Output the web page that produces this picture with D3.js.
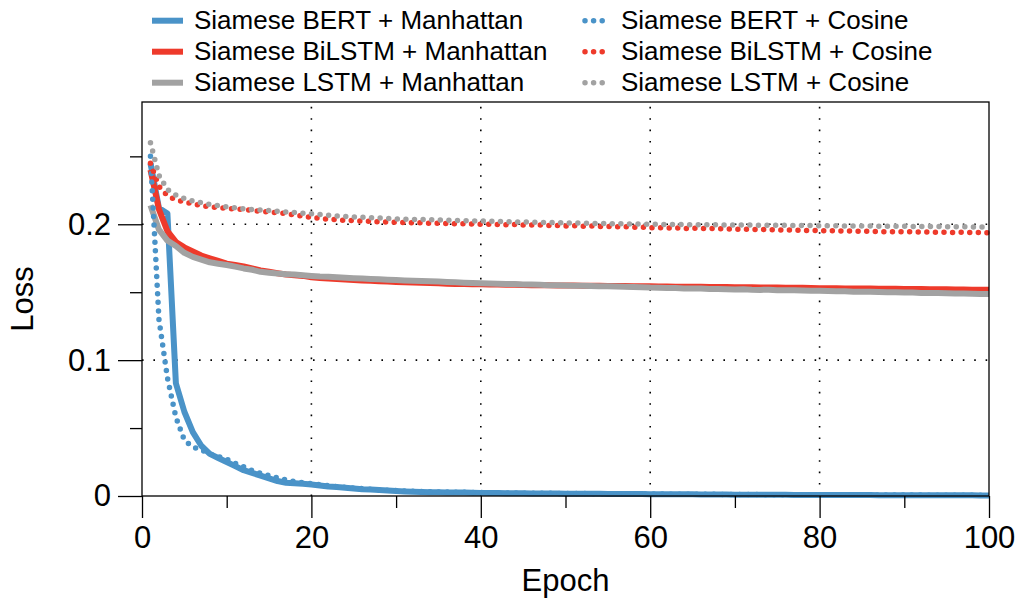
<!DOCTYPE html>
<html>
<head>
<meta charset="utf-8">
<script src="https://cdn.jsdelivr.net/npm/d3@7"></script>
<style>
  body { margin: 0; background: #fff; }
  svg text { font-family: "Liberation Sans", Arial, Helvetica, sans-serif; fill: #000; }
</style>
</head>
<body>
<svg id="viz" width="1021" height="599"></svg>
<script>
// ----- data -----
const epochs = d3.range(1, 101);

const bertMan = [
  0.245, 0.212, 0.208, 0.083, 0.062, 0.047, 0.037, 0.031, 0.028, 0.025,
  0.022, 0.019, 0.017, 0.015, 0.013, 0.011, 0.0098, 0.0094, 0.009, 0.0085,
  0.0078, 0.007, 0.0066, 0.006, 0.0055, 0.005, 0.0047, 0.0044, 0.004, 0.0037,
  0.0034, 0.0032, 0.003, 0.0028, 0.0027, 0.0026, 0.0026, 0.0025, 0.0024, 0.0023,
  0.0022, 0.0022, 0.0021, 0.002, 0.002, 0.0019, 0.0019, 0.0018, 0.0018, 0.0017,
  0.0017, 0.0016, 0.0016, 0.0016, 0.0015, 0.0015, 0.0014, 0.0015, 0.0014, 0.0013,
  0.0013, 0.0013, 0.0012, 0.0012, 0.0012, 0.0011, 0.0011, 0.0011, 0.0011, 0.001,
  0.001, 0.001, 0.0009, 0.0009, 0.0009, 0.0009, 0.0008, 0.0008, 0.0008, 0.0008,
  0.0008, 0.0007, 0.0007, 0.0007, 0.0007, 0.0007, 0.0006, 0.0006, 0.0006, 0.0006,
  0.0006, 0.0006, 0.0005, 0.0005, 0.0005, 0.0005, 0.0005, 0.0005, 0.0004, 0.0004
];
const bilstmMan = [
  0.240, 0.211, 0.195, 0.187, 0.183, 0.180, 0.177, 0.175, 0.173, 0.171,
  0.170, 0.169, 0.1675, 0.166, 0.165, 0.164, 0.163, 0.1625, 0.162, 0.161,
  0.1605, 0.160, 0.1597, 0.1593, 0.159, 0.1587, 0.1584, 0.1581, 0.1578, 0.1575,
  0.1573, 0.1571, 0.1569, 0.1567, 0.1565, 0.1563, 0.1561, 0.156, 0.1559, 0.1558,
  0.1557, 0.1556, 0.1555, 0.1554, 0.1553, 0.1552, 0.1552, 0.1551, 0.155, 0.155,
  0.1549, 0.1548, 0.1548, 0.1547, 0.1546, 0.1546, 0.1545, 0.1544, 0.1543, 0.1543,
  0.1542, 0.1542, 0.1541, 0.154, 0.1541, 0.154, 0.1539, 0.1538, 0.1538, 0.1537,
  0.1536, 0.1536, 0.1535, 0.1534, 0.1534, 0.1533, 0.1532, 0.1532, 0.1531, 0.153,
  0.153, 0.1529, 0.1528, 0.1528, 0.1527, 0.1527, 0.1526, 0.1525, 0.1525, 0.1524,
  0.1523, 0.1523, 0.1522, 0.1521, 0.1521, 0.152, 0.152, 0.1519, 0.1518, 0.1518
];
const lstmMan = [
  0.214, 0.196, 0.188, 0.184, 0.179, 0.176, 0.174, 0.172, 0.171, 0.170,
  0.1688, 0.1675, 0.1665, 0.165, 0.1643, 0.1637, 0.1633, 0.163, 0.1625, 0.162,
  0.1616, 0.1614, 0.161, 0.1606, 0.1603, 0.16, 0.1597, 0.1595, 0.1592, 0.159,
  0.1587, 0.1585, 0.1582, 0.158, 0.1578, 0.1575, 0.1573, 0.157, 0.1568, 0.1566,
  0.1565, 0.1563, 0.1561, 0.156, 0.1557, 0.1556, 0.1554, 0.1552, 0.1551, 0.155,
  0.1548, 0.1547, 0.1546, 0.1544, 0.1543, 0.1542, 0.154, 0.1538, 0.1537, 0.1534,
  0.1533, 0.1531, 0.1531, 0.1528, 0.1527, 0.1527, 0.1524, 0.1524, 0.1522, 0.152,
  0.1521, 0.1518, 0.1517, 0.1518, 0.1515, 0.1514, 0.1515, 0.1512, 0.151, 0.151,
  0.1508, 0.1507, 0.1507, 0.1504, 0.1503, 0.1503, 0.1501, 0.15, 0.1499, 0.1497,
  0.1497, 0.1495, 0.1494, 0.1494, 0.1492, 0.149, 0.149, 0.1489, 0.1487, 0.1486
];
const bertCos = [
  0.25, 0.13, 0.087, 0.058, 0.041, 0.036, 0.034, 0.031, 0.029, 0.027,
  0.024, 0.0215, 0.0188, 0.0167, 0.015, 0.0133, 0.0118, 0.0106, 0.0098, 0.009,
  0.0083, 0.0076, 0.007, 0.0064, 0.0059, 0.0054, 0.005, 0.0046, 0.0043, 0.004,
  0.0037, 0.0035, 0.0033, 0.0031, 0.003, 0.0029, 0.0028, 0.0027, 0.0026, 0.0025,
  0.0024, 0.0023, 0.0023, 0.0022, 0.0021, 0.0021, 0.002, 0.002, 0.0019, 0.0019,
  0.0018, 0.0018, 0.0017, 0.0017, 0.0016, 0.0016, 0.0016, 0.0015, 0.0015, 0.0014,
  0.0014, 0.0014, 0.0013, 0.0013, 0.0013, 0.0012, 0.0012, 0.0012, 0.0011, 0.0011,
  0.0011, 0.0011, 0.001, 0.001, 0.001, 0.001, 0.0009, 0.0009, 0.0009, 0.0009,
  0.0009, 0.0008, 0.0008, 0.0008, 0.0008, 0.0008, 0.0007, 0.0007, 0.0007, 0.0007,
  0.0007, 0.0007, 0.0006, 0.0006, 0.0006, 0.0006, 0.0006, 0.0006, 0.0005, 0.0005
];
const bilstmCos = [
  0.245, 0.228, 0.221, 0.218, 0.2165, 0.215, 0.2138, 0.2128, 0.2122, 0.2118,
  0.2113, 0.2108, 0.2102, 0.2096, 0.209, 0.2086, 0.2078, 0.2068, 0.206, 0.205,
  0.2045, 0.2037, 0.2034, 0.2028, 0.2027, 0.2022, 0.2022, 0.2018, 0.2016, 0.2015,
  0.2013, 0.201, 0.2011, 0.2007, 0.2008, 0.2005, 0.2004, 0.2003, 0.2001, 0.2,
  0.2001, 0.1998, 0.1997, 0.1998, 0.1995, 0.1994, 0.1995, 0.1991, 0.1992, 0.1988,
  0.1989, 0.1986, 0.1987, 0.1983, 0.1984, 0.1981, 0.1982, 0.1978, 0.198, 0.1974,
  0.1976, 0.1973, 0.1974, 0.1969, 0.1972, 0.1968, 0.197, 0.1966, 0.1967, 0.1963,
  0.1965, 0.1961, 0.1963, 0.1958, 0.196, 0.1957, 0.1958, 0.1953, 0.1956, 0.1951,
  0.1953, 0.195, 0.1952, 0.1948, 0.195, 0.1946, 0.1948, 0.1944, 0.1947, 0.1943,
  0.1945, 0.1942, 0.1944, 0.194, 0.1943, 0.1939, 0.1942, 0.1938, 0.194, 0.1937
];
const lstmCos = [
  0.26, 0.236, 0.2255, 0.2215, 0.219, 0.2172, 0.2158, 0.2146, 0.2137, 0.2128,
  0.212, 0.2113, 0.2108, 0.2105, 0.2102, 0.2096, 0.209, 0.2086, 0.2082, 0.2078,
  0.2072, 0.2066, 0.2062, 0.2058, 0.2054, 0.2052, 0.2049, 0.2046, 0.2043, 0.204,
  0.2038, 0.2036, 0.2035, 0.2033, 0.2031, 0.2029, 0.2028, 0.2026, 0.2025, 0.2024,
  0.2022, 0.2021, 0.2019, 0.2018, 0.2017, 0.2015, 0.2014, 0.2013, 0.2011, 0.201,
  0.2009, 0.2008, 0.2007, 0.2006, 0.2005, 0.2004, 0.2003, 0.2002, 0.2001, 0.2,
  0.1999, 0.1999, 0.1998, 0.1998, 0.1997, 0.1997, 0.1996, 0.1996, 0.1995, 0.1995,
  0.1994, 0.1994, 0.1993, 0.1993, 0.1992, 0.1992, 0.1991, 0.1991, 0.199, 0.199,
  0.1989, 0.1989, 0.1988, 0.1988, 0.1987, 0.1987, 0.1986, 0.1986, 0.1985, 0.1985,
  0.1984, 0.1984, 0.1983, 0.1983, 0.1982, 0.1982, 0.1981, 0.1981, 0.198, 0.198
];

const xMajor = [0, 20, 40, 60, 80, 100];
const xMinor = [10, 30, 50, 70, 90];
const yMajor = [0, 0.1, 0.2];
const yMinor = [0.05, 0.15, 0.25];

const BLUE = "#4a93c8", RED = "#ee3a2b", GRAY = "#a2a2a2";

// legend order = draw order
const series = [
  { name: "Siamese BERT + Manhattan",   values: bertMan,   color: BLUE, dotted: false },
  { name: "Siamese BiLSTM + Manhattan", values: bilstmMan, color: RED,  dotted: false },
  { name: "Siamese LSTM + Manhattan",   values: lstmMan,   color: GRAY, dotted: false },
  { name: "Siamese BERT + Cosine",      values: bertCos,   color: BLUE, dotted: true },
  { name: "Siamese BiLSTM + Cosine",    values: bilstmCos, color: RED,  dotted: true },
  { name: "Siamese LSTM + Cosine",      values: lstmCos,   color: GRAY, dotted: true }
];

// ----- layout -----
const svg = d3.select("#viz");
const L = 142, R = 989, T = 102, B = 496;

const x = d3.scaleLinear().domain([0, 100]).range([L, R]);
const y = d3.scaleLinear().domain([0, 0.29]).range([B, T]);

// grid (dotted)
const grid = svg.append("g").attr("stroke", "#000").attr("stroke-width", 1.6)
  .attr("stroke-dasharray", "1.6,9.8");
grid.selectAll(".vg").data([20, 40, 60, 80]).join("line")
  .attr("x1", d => x(d)).attr("x2", d => x(d)).attr("y1", B).attr("y2", T);
grid.selectAll(".hg").data([0.1, 0.2]).join("line")
  .attr("class", "hg")
  .attr("x1", L).attr("x2", R).attr("y1", d => y(d)).attr("y2", d => y(d));

// lines
const line = d3.line().x((d, i) => x(epochs[i])).y(d => y(d));
const plot = svg.append("g");
series.forEach(s => {
  const p = plot.append("path")
    .datum(s.values)
    .attr("d", line)
    .attr("fill", "none")
    .attr("stroke", s.color)
    .attr("stroke-linejoin", "round");
  if (s.dotted) {
    p.attr("stroke-width", 5.5).attr("stroke-linecap", "round").attr("stroke-dasharray", "0,8.6");
  } else {
    p.attr("stroke-width", 6);
  }
});

// frame
svg.append("rect").attr("x", L).attr("y", T).attr("width", R - L).attr("height", B - T)
  .attr("fill", "none").attr("stroke", "#000").attr("stroke-width", 1.3);

// axes with custom tick lengths
const xAxisMaj = d3.axisBottom(x).tickValues(xMajor).tickSize(22).tickPadding(8).tickFormat(d3.format("d"));
const xAxisMin = d3.axisBottom(x).tickValues(xMinor).tickSize(12).tickFormat("");
const yAxisMaj = d3.axisLeft(y).tickValues(yMajor).tickSize(24).tickPadding(7).tickFormat(d => d === 0 ? "0" : d3.format(".1f")(d));
const yAxisMin = d3.axisLeft(y).tickValues(yMinor).tickSize(12).tickFormat("");

function styleAxis(g) {
  g.select(".domain").remove();
  g.selectAll(".tick line").attr("stroke", "#000").attr("stroke-width", 1.3);
  g.selectAll(".tick text").attr("font-size", 31).attr("font-family", "Liberation Sans, Arial, sans-serif").attr("fill", "#000");
}
svg.append("g").attr("transform", `translate(0,${B})`).call(xAxisMaj).call(styleAxis);
svg.append("g").attr("transform", `translate(0,${B})`).call(xAxisMin).call(styleAxis);
svg.append("g").attr("transform", `translate(${L},0)`).call(yAxisMaj).call(styleAxis);
svg.append("g").attr("transform", `translate(${L},0)`).call(yAxisMin).call(styleAxis);

// axis labels
svg.append("text").attr("x", (L + R) / 2).attr("y", 591)
  .attr("text-anchor", "middle").attr("font-size", 31).text("Epoch");
svg.append("text").attr("transform", `translate(33,${(T + B) / 2}) rotate(-90)`)
  .attr("text-anchor", "middle").attr("font-size", 31).text("Loss");

// legend: two columns of three
const leg = svg.append("g");
series.forEach((s, i) => {
  const col = Math.floor(i / 3), row = i % 3;
  const cy = 20.7 + row * 31;
  const gx = col === 0 ? 152 : 585;
  const tx = col === 0 ? 194 : 621;
  if (s.dotted) {
    leg.append("line").attr("x1", gx).attr("x2", gx + 17.2).attr("y1", cy).attr("y2", cy)
      .attr("stroke", s.color).attr("stroke-width", 5.5).attr("stroke-linecap", "round")
      .attr("stroke-dasharray", "0,8.6");
  } else {
    leg.append("line").attr("x1", gx).attr("x2", gx + 31).attr("y1", cy).attr("y2", cy)
      .attr("stroke", s.color).attr("stroke-width", 6);
  }
  leg.append("text").attr("x", tx).attr("y", cy + 8.5).attr("font-size", 26).text(s.name);
});
</script>
</body>
</html>
